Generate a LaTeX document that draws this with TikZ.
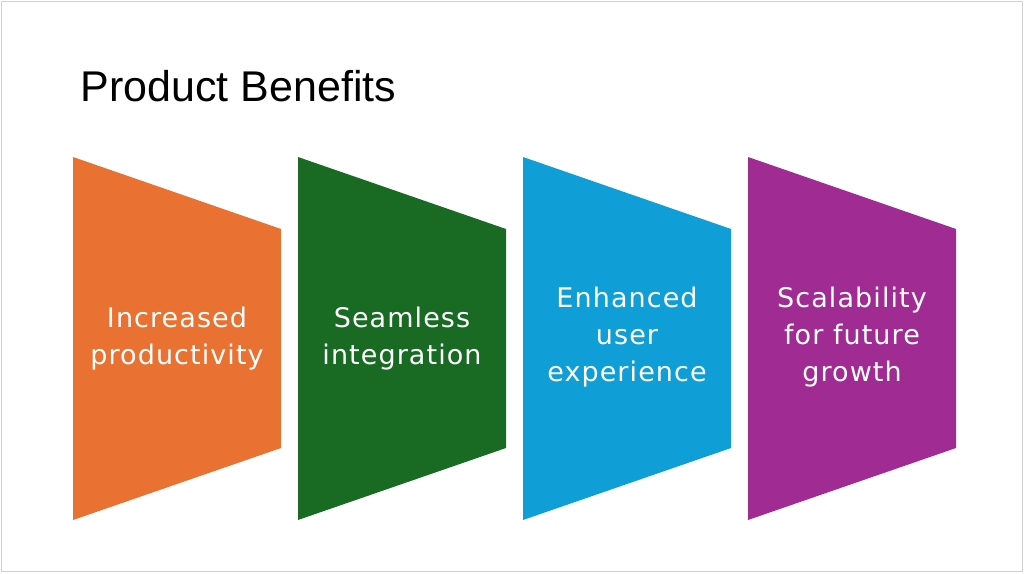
\documentclass[tikz,border=0pt]{standalone}
\usepackage{fontspec}
\setmainfont{Liberation Sans}
\newfontfamily\bodyfont[LetterSpace=4]{DejaVu Sans}
\definecolor{cOrange}{HTML}{E97132}
\definecolor{cGreen}{HTML}{196B24}
\definecolor{cBlue}{HTML}{0F9ED5}
\definecolor{cPurple}{HTML}{A02B93}
\definecolor{cFrame}{HTML}{D0D0D0}
\tikzset{
  titletext/.style={anchor=base west, inner sep=0pt, font=\fontsize{43}{50}\selectfont, text=black},
  bodytext/.style={anchor=base, inner sep=0pt, align=center, text=white,
    font=\bodyfont\fontsize{27}{37}\selectfont},
}
\newcommand{\benefitshape}[2]{%
  \fill[#2] (#1,157) -- (#1+208,229) -- (#1+208,448) -- (#1,520) -- cycle;}
\begin{document}
\begin{tikzpicture}[x=1pt,y=-1pt]
\useasboundingbox (0,0) rectangle (1024,573);
\draw[cFrame, line width=1pt] (1.3,1.3) rectangle (1022.3,571.7);
\node[titletext] (title) at (80.5,101) {Product Benefits};
\benefitshape{73}{cOrange}
\benefitshape{298}{cGreen}
\benefitshape{523}{cBlue}
\benefitshape{748}{cPurple}
\node[bodytext] (b1) at (177,364) {Increased\\productivity};
\node[bodytext] (b2) at (402,364) {Seamless\\integration};
\node[bodytext] (b3) at (627,381.7) {Enhanced\\user\\experience};
\node[bodytext] (b4) at (852,381.7) {Scalability\\for future\\growth};
\end{tikzpicture}
\end{document}
